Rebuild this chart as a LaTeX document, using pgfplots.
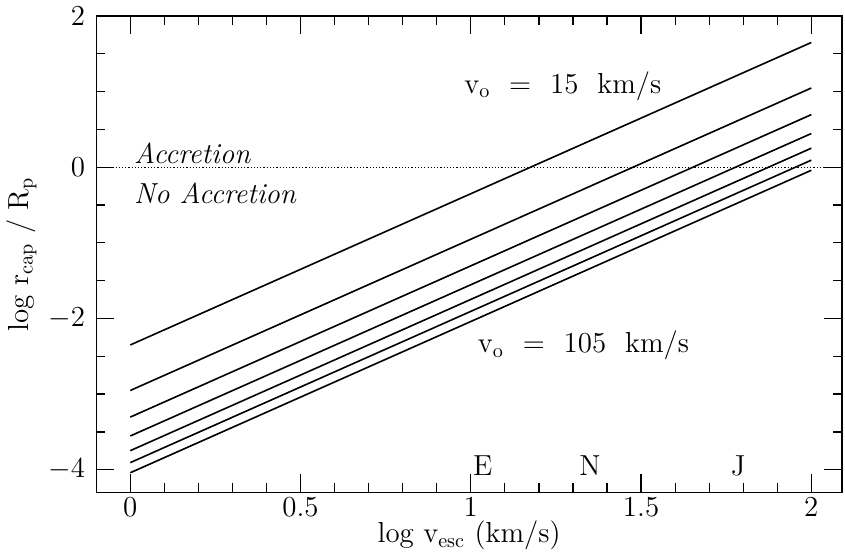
\documentclass[border=0pt]{standalone}
\usepackage{pgfplots}
\pgfplotsset{compat=1.18}
\begin{document}
\begin{tikzpicture}
\begin{axis}[
  scale only axis,
  width=371pt, height=237pt,
  xmin=-0.1, xmax=2.09,
  ymin=-4.3, ymax=2,
  xtick={0,0.5,1,1.5,2},
  xticklabels={0,0.5,1,1.5,2},
  ytick={-4,-2,0,2},
  minor x tick num=4,
  minor y tick num=3,
  tick align=inside,
  major tick length=9pt,
  minor tick length=4.5pt,
  tick style={black, line width=0.6pt},
  axis line style={line width=0.7pt},
  ticklabel style={font=\Large},
  xticklabel shift=-1pt,
  yticklabel shift=2pt,
  xlabel={\Large log v$_{\mathrm{esc}}$ (km/s)},
  ylabel={\Large log r$_{\mathrm{cap}}$ / R$_{\mathrm{p}}$},
  xlabel style={yshift=5pt},
  ylabel style={yshift=-1pt},
  clip=true,
]
\addplot[black, line width=0.8pt] coordinates {(0,-2.350) (2,1.650)};
\addplot[black, line width=0.8pt] coordinates {(0,-2.952) (2,1.048)};
\addplot[black, line width=0.8pt] coordinates {(0,-3.304) (2,0.696)};
\addplot[black, line width=0.8pt] coordinates {(0,-3.554) (2,0.446)};
\addplot[black, line width=0.8pt] coordinates {(0,-3.748) (2,0.252)};
\addplot[black, line width=0.8pt] coordinates {(0,-3.906) (2,0.094)};
\addplot[black, line width=0.8pt] coordinates {(0,-4.040) (2,-0.040)};
\addplot[black, densely dotted, line width=0.6pt] coordinates {(-0.1,0) (2.09,0)};
\node[anchor=west, font=\Large\itshape] at (axis cs:-0.01,0.19) {Accretion};
\node[anchor=west, font=\Large\itshape] at (axis cs:-0.01,-0.34) {No Accretion};
\node[anchor=west, font=\Large] at (axis cs:0.96,1.07) {v$_{\mathrm{o}}$\ \ =\ \ 15\ \ km/s};
\node[anchor=west, font=\Large] at (axis cs:1.0,-2.36) {v$_{\mathrm{o}}$\ \ =\ \ 105\ \ km/s};
\node[font=\Large] at (axis cs:1.035,-3.95) {E};
\node[font=\Large] at (axis cs:1.35,-3.95) {N};
\node[font=\Large] at (axis cs:1.785,-3.95) {J};
\end{axis}
\path (current axis.north east) ++(1.5pt,5.5pt) coordinate (r);
\path (current bounding box.south west) ++(0,2.5pt) coordinate (l);
\useasboundingbox (l) rectangle (r);
\end{tikzpicture}
\end{document}
